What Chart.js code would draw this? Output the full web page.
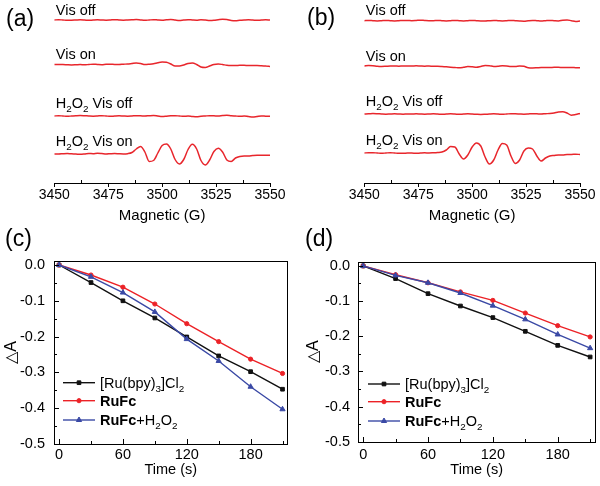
<!DOCTYPE html>
<html>
<head>
<meta charset="utf-8">
<script src="https://cdn.jsdelivr.net/npm/chart.js"></script>
<style>
  body { margin: 0; background: #fff; }
  #fig { position: relative; width: 600px; height: 486px; font-family: "Liberation Sans", Arial, sans-serif; }
  #fig canvas { position: absolute; }
  .tag { position: absolute; font-size: 23px; line-height: 23px; color: #000; }
</style>
</head>
<body>
<div id="fig">
  <canvas id="ca" width="300" height="240" style="left:0;top:0"></canvas>
  <canvas id="cb" width="300" height="240" style="left:300px;top:0"></canvas>
  <canvas id="cc" width="300" height="246" style="left:0;top:240px"></canvas>
  <canvas id="cd" width="300" height="246" style="left:300px;top:240px"></canvas>
  <div class="tag" style="left:6px;top:7px">(a)</div>
  <div class="tag" style="left:307px;top:6px">(b)</div>
  <div class="tag" style="left:5px;top:227px">(c)</div>
  <div class="tag" style="left:305px;top:227px">(d)</div>
</div>
<script>
// ---- EPR spectra (a), (b): field in G, intensities in a.u. ----
const field = [3450,3452,3454,3456,3458,3460,3462,3464,3466,3468,3470,3472,3474,3476,3478,3480,3482,3484,3486,3488,
  3490,3492,3494,3496,3498,3500,3502,3504,3506,3508,3510,3512,3514,3516,3518,3520,3522,3524,3526,3528,
  3530,3532,3534,3536,3538,3540,3542,3544,3546,3548,3550];
const fieldTicks = [3450, 3475, 3500, 3525, 3550];
const traceNames = ['Vis off', 'Vis on', 'H_2O_2 Vis off', 'H_2O_2 Vis on'];

const aVisOff = [0,0.3,0,-0.3,-0.2,0,0.2,0,-0.3,0, 0.2,0,-0.2,0,0.3,0,-0.2,0,0.2,0.4,
  0,-0.3,0,0.3,0,-0.2,0.2,0.5,0,-0.4, 0,0.3,0,-0.2,0.3,0,-0.5,-0.3,0.3,0.8,
  0.5,-0.5,-0.8,-0.3,0,0.2,0,-0.3,0,0.2,0];
const aVisOn = [0,0,0,-0.3,-0.5,-0.3,0,-0.3,0,0.3, 0,-0.2,0.2,0.3,0,0,0.3,0.5,1,1.5,
  1,0,0.3,0.8,1.8,2.5,2.3,0.5,-1.5,-1.5, -0.5,1,1.5,0,-2.5,-3,-1.5,0,0.5,0,
  -0.8,-1,-1,-0.8,-0.8,-1,-1,-1,-1.2,-1.5,-2];
const aH2O2VisOff = [0,0.3,0,-0.3,0,0.3,0.5,0.3,0,-0.2, 0,0.3,0,-0.3,0,0.2,0,-0.2,0,0.3,
  0.2,0,0.3,0.5,0,-0.5,-0.2,0.2,0.3,0, -0.3,0,-0.5,-0.8,-0.3,0,0.3,0.2,0,0.5,
  0.8,0.3,0,-0.3,0,-0.5,-1,-0.5,0,-0.2,-0.3];
const aH2O2VisOn = [0,0,0.3,0.5,0.2,0,-0.3,0,0.5,0.3, 0.8,0.5,0,0.3,0.5,0.2,0,0.3,1.5,5,
  7.5,2,-7.5,-6.5,1,8.5,10,5,-5.5,-10, -5.5,4.5,9.7,5,-6.5,-11,-6,2.5,5.7,2,
  -6,-7.5,-4,-2.5,-2,-2,-1.5,-1.2,-1.2,-1.3,-1.3];

const bVisOff = [0,0.2,0,-0.2,0,0.2,0,-0.2,0,0.3, 0.3,0,0.2,0.5,0.2,0,0,0.2,0,-0.2,
  0,0.2,0,-0.2,0,0.2,0,-0.2,-0.3,0, 0.2,0,-0.2,0,0.3,0,-0.3,-0.5,0,0.3,
  0,-0.3,0,0.3,0,-0.2,0.5,0.8,0,-0.8,-0.3];
const bVisOn = [0,0.5,0.3,-0.3,-0.5,-0.3,0,0,-0.2,0, 0,0,0.2,0,-0.2,0,-0.3,-0.3,-0.5,-0.8,
  -1.2,-1.5,-1.8,-1.3,-0.5,-0.8,-1.3,-0.5,0.5,0.3, -0.5,-0.3,0.2,0,-0.5,-0.5,0,-0.3,-1.8,-2,
  -1.8,-1.5,-1.5,-1.5,-1.3,-1.3,-1.5,-1.5,-1.5,-1.7,-1.8];
const bH2O2VisOff = [0,0.2,0.5,0.3,0,-0.2,0,0.2,0,-0.2, 0,0,0.2,0,-0.2,0,0.2,0,-0.3,0,
  0.2,0,-0.3,0,0.2,0,-0.3,-0.5,-0.3,0, 0.2,0,-0.3,0,0.3,0.2,0,-0.2,0,0.3,
  0.2,0,0.3,0.5,1,2,2.3,1,-1.2,-0.5,0.5];
const bH2O2VisOn = [0,0.3,0.3,0,-0.3,0,0.3,0,-0.3,-0.3, 0,0,-0.3,0,0.2,0,0.2,0.5,1,3,
  6.5,6,-1,-6,-2,6,10,7,-4,-11, -7,3,9.5,8,-3,-10.5,-7,2,5,4,
  -3,-8,-5,-3,-2.5,-2,-2,-1.5,-1.5,-1.2,-1.5];

// ---- absorbance change (c), (d) ----
const times = [0, 30, 60, 90, 120, 150, 180, 210];
const timeTicks = [0, 60, 120, 180];
const absTicks = [-0.5, -0.4, -0.3, -0.2, -0.1, 0];
const seriesNames = ['[Ru(bpy)_3]Cl_2', '**RuFc**', '**RuFc**+H_2O_2'];

const cRuBpy = [0, -0.049, -0.100, -0.148, -0.201, -0.254, -0.298, -0.347];
const cRuFc = [0, -0.028, -0.062, -0.109, -0.164, -0.214, -0.263, -0.303];
const cRuFcH2O2 = [0, -0.033, -0.077, -0.131, -0.207, -0.268, -0.340, -0.403];

const dRuBpy = [0, -0.036, -0.079, -0.114, -0.147, -0.186, -0.226, -0.259];
const dRuFc = [0, -0.025, -0.048, -0.074, -0.098, -0.134, -0.170, -0.202];
const dRuFcH2O2 = [0, -0.027, -0.048, -0.077, -0.113, -0.152, -0.195, -0.234];

const FONT = '"Liberation Sans", Arial, sans-serif';
Chart.defaults.font.family = FONT;
Chart.defaults.color = '#000';

// "**" toggles bold, "_x" makes x a subscript
function parseRich(str) {
  const runs = [];
  let bold = false;
  for (let i = 0; i < str.length; i++) {
    if (str.startsWith('**', i)) { bold = !bold; i++; continue; }
    let ch = str[i], sub = false;
    if (ch === '_') { sub = true; ch = str[++i]; }
    const last = runs[runs.length - 1];
    if (last && last.bold === bold && last.sub === sub) last.t += ch;
    else runs.push({ t: ch, bold: bold, sub: sub });
  }
  return runs;
}
function drawRich(ctx, str, x, y, size) {
  parseRich(str).forEach(r => {
    const fs = r.sub ? size * 0.68 : size;
    ctx.font = (r.bold ? 'bold ' : '') + fs + 'px ' + FONT;
    ctx.fillText(r.t, x, r.sub ? y + size * 0.28 : y);
    x += ctx.measureText(r.t).width;
  });
}

// origin-like major + minor tick marks
function tickMarks(axes) {
  return {
    id: 'tickMarks',
    afterDraw(chart) {
      const { ctx, chartArea: a } = chart;
      ctx.save();
      ctx.strokeStyle = '#000';
      ctx.lineWidth = 1;
      axes.forEach(ax => {
        const s = chart.scales[ax.id];
        const major = s.ticks.map(t => t.value);
        const step = major[1] - major[0];
        const minor = major.map(v => v + step / 2);
        minor.unshift(major[0] - step / 2);
        const marks = major.map(v => [v, ax.major, ax.majorDir])
          .concat(minor.filter(v => v >= s.min && v <= s.max).map(v => [v, ax.minor, ax.minorDir]));
        ctx.beginPath();
        marks.forEach(([v, len, dir]) => {
          const p = Math.round(s.getPixelForValue(v)) + 0.5;
          if (s.isHorizontal()) {
            const y0 = Math.round(a.bottom);
            ctx.moveTo(p, y0); ctx.lineTo(p, y0 + dir * len);
          } else {
            const x0 = Math.round(a.left);
            ctx.moveTo(x0, p); ctx.lineTo(x0 + dir * len, p);
          }
        });
        ctx.stroke();
      });
      ctx.restore();
    }
  };
}

function traceLabels(names, offsets) {
  return {
    id: 'traceLabels',
    afterDraw(chart) {
      const { ctx, chartArea: a } = chart;
      const y = chart.scales.y;
      ctx.save();
      ctx.fillStyle = '#000';
      ctx.textBaseline = 'alphabetic';
      names.forEach((n, k) => {
        const gap = n.includes('_') ? 8.5 : 5.5;
        drawRich(ctx, n, a.left + 1.5, y.getPixelForValue(offsets[k]) - gap, 14.5);
      });
      ctx.restore();
    }
  };
}

function eprChart(id, traces, offsets, padLeft, padRight) {
  new Chart(document.getElementById(id), {
    type: 'line',
    data: {
      datasets: traces.map((vals, k) => ({
        data: field.map((g, i) => ({ x: g, y: offsets[k] + vals[i] })),
        borderColor: '#e8262c',
        borderWidth: 1.5,
        pointRadius: 0,
        cubicInterpolationMode: 'monotone',
        fill: false
      }))
    },
    options: {
      responsive: false,
      animation: false,
      layout: { padding: { left: padLeft, right: padRight, top: 3, bottom: 15.6 } },
      plugins: { legend: { display: false }, tooltip: { enabled: false } },
      scales: {
        x: {
          type: 'linear', min: 3450, max: 3550,
          afterBuildTicks: s => { s.ticks = fieldTicks.map(v => ({ value: v })); },
          afterFit: s => { s.height = 41.4; },
          grid: { display: false, drawTicks: false },
          border: { display: true, color: '#000', width: 1 },
          ticks: { padding: 4, autoSkip: false, maxRotation: 0, font: { size: 14 }, callback: v => String(v) },
          title: { display: true, text: 'Magnetic (G)', font: { size: 15 }, padding: 0 }
        },
        y: { display: false, min: 0, max: 180 }
      }
    },
    plugins: [
      tickMarks([{ id: 'x', major: 4, majorDir: 1, minor: 3, minorDir: -1 }]),
      traceLabels(traceNames, offsets)
    ]
  });
}

eprChart('ca', [aVisOff, aVisOn, aH2O2VisOff, aH2O2VisOn], [163, 118.5, 67, 29], 54.3, 30);
eprChart('cb', [bVisOff, bVisOn, bH2O2VisOff, bH2O2VisOn], [162.3, 117, 69, 30], 64.3, 20);

// ---- kinetics panels ----
const seriesStyles = [
  { color: '#111111', point: 'rect', r: 2.6, order: 2 },
  { color: '#ec2227', point: 'circle', r: 2.1, order: 1 },
  { color: '#3a49a5', point: 'triangle', r: 3, order: 0 }
];

function marker(ctx, style, x, y, r, color) {
  ctx.fillStyle = color;
  ctx.strokeStyle = color;
  ctx.lineWidth = 1;
  ctx.beginPath();
  if (style === 'rect') {
    const h = r * Math.SQRT1_2;
    ctx.rect(x - h, y - h, 2 * h, 2 * h);
  } else if (style === 'circle') {
    ctx.arc(x, y, r, 0, Math.PI * 2);
  } else {
    ctx.moveTo(x, y - r);
    ctx.lineTo(x + r * 0.866, y + r / 2);
    ctx.lineTo(x - r * 0.866, y + r / 2);
    ctx.closePath();
  }
  ctx.fill();
  ctx.stroke();
}

const frame = {
  id: 'frame',
  afterDraw(chart) {
    const { ctx, chartArea: a } = chart;
    ctx.save();
    ctx.strokeStyle = '#000';
    ctx.lineWidth = 1;
    const l = Math.round(a.left) + 0.5, t = Math.round(a.top) + 0.5;
    ctx.strokeRect(l, t, Math.round(a.right) - Math.round(a.left), Math.round(a.bottom) - Math.round(a.top));
    ctx.restore();
  }
};

function seriesLegend(xOff, rows) {
  return {
    id: 'seriesLegend',
    afterDraw(chart) {
      const { ctx, chartArea: a } = chart;
      ctx.save();
      seriesStyles.forEach((st, i) => {
        const y = a.bottom - rows[i];
        const x0 = a.left + xOff;
        ctx.strokeStyle = st.color;
        ctx.lineWidth = 1.4;
        ctx.beginPath();
        ctx.moveTo(x0, y);
        ctx.lineTo(x0 + 32, y);
        ctx.stroke();
        marker(ctx, st.point, x0 + 16, y, st.r, st.color);
        ctx.fillStyle = '#000';
        ctx.textBaseline = 'alphabetic';
        drawRich(ctx, seriesNames[i], x0 + 37, y + 5, 14.5);
      });
      ctx.restore();
    }
  };
}

function kineticsChart(id, series, lay) {
  new Chart(document.getElementById(id), {
    type: 'line',
    data: {
      datasets: series.map((vals, k) => ({
        data: times.map((t, i) => ({ x: t, y: vals[i] })),
        borderColor: seriesStyles[k].color,
        backgroundColor: seriesStyles[k].color,
        borderWidth: 1.4,
        pointStyle: seriesStyles[k].point,
        pointRadius: seriesStyles[k].r,
        pointBorderWidth: 1,
        order: seriesStyles[k].order,
        tension: 0,
        fill: false
      }))
    },
    options: {
      responsive: false,
      animation: false,
      layout: { padding: lay.pad },
      plugins: { legend: { display: false }, tooltip: { enabled: false } },
      scales: {
        x: {
          type: 'linear', min: -4.5, max: 214.5,
          afterBuildTicks: s => { s.ticks = timeTicks.map(v => ({ value: v })); },
          afterFit: s => { s.height = lay.xh; },
          grid: { display: false, drawTicks: false },
          border: { display: false },
          ticks: { padding: lay.xpad, autoSkip: false, maxRotation: 0, font: { size: 14.5 }, callback: v => String(v) },
          title: { display: true, text: 'Time (s)', font: { size: 14.5 }, padding: 0 }
        },
        y: {
          min: -0.5, max: 0.012,
          afterBuildTicks: s => { s.ticks = absTicks.map(v => ({ value: v })); },
          afterFit: s => { s.width = lay.yw; },
          grid: { display: false, drawTicks: false },
          border: { display: false },
          ticks: { padding: lay.ypad, autoSkip: false, font: { size: 14.5 }, callback: v => v.toFixed(1) },
          title: { display: true, text: '△A', font: { size: 16 }, padding: 0 }
        }
      }
    },
    plugins: [
      frame,
      tickMarks([
        { id: 'x', major: 5, majorDir: -1, minor: 3, minorDir: -1 },
        { id: 'y', major: 5, majorDir: 1, minor: 3, minorDir: 1 }
      ]),
      seriesLegend(lay.legX, lay.legRows)
    ]
  });
}

kineticsChart('cc', [cRuBpy, cRuFc, cRuFcH2O2], {
  pad: { left: 2.4, right: 12.7, top: 20.7, bottom: 7.3 },
  yw: 51.9, xh: 34.7, ypad: 9.3, xpad: 2.5, legX: 8.7, legRows: [61.3, 43.3, 24]
});
kineticsChart('cd', [dRuBpy, dRuFc, dRuFcH2O2], {
  pad: { left: 4.4, right: 5, top: 21.7, bottom: 7.3 },
  yw: 53.9, xh: 37, ypad: 8.3, xpad: 4.9, legX: 9.7, legRows: [57.7, 40, 20.7]
});
</script>
</body>
</html>
